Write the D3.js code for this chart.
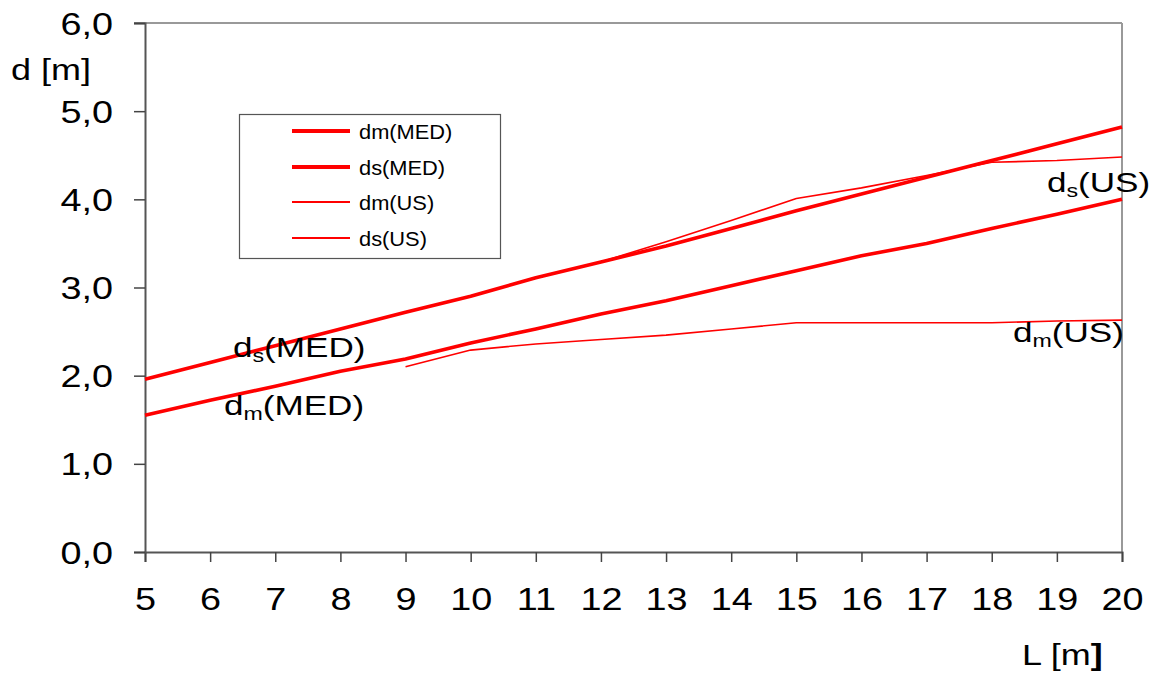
<!DOCTYPE html>
<html>
<head>
<meta charset="utf-8">
<script src="https://cdn.jsdelivr.net/npm/d3@7/dist/d3.min.js"></script>
<style>
  html, body { margin: 0; padding: 0; background: #fff; }
  svg { display: block; font-family: "Liberation Sans", Arial, sans-serif; }
</style>
</head>
<body>
<svg id="chart" width="1157" height="682"></svg>
<script>
// Span length L [m]
const lengths = [5, 6, 7, 8, 9, 10, 11, 12, 13, 14, 15, 16, 17, 18, 19, 20];
// Depths d [m] for the MED rules
const dmMED = [1.55, 1.72, 1.88, 2.05, 2.19, 2.37, 2.53, 2.70, 2.85, 3.02, 3.19, 3.36, 3.50, 3.67, 3.83, 4.00];
const dsMED = [1.96, 2.15, 2.34, 2.53, 2.72, 2.90, 3.11, 3.29, 3.47, 3.67, 3.87, 4.06, 4.25, 4.44, 4.63, 4.82];
// Depths d [m] for the US rules (from L = 9 m)
const lengthsUS = [9, 10, 11, 12, 13, 14, 15, 16, 17, 18, 19, 20];
const dmUS = [2.10, 2.29, 2.36, 2.41, 2.46, 2.53, 2.60, 2.60, 2.60, 2.60, 2.62, 2.63];
const dsUS = [2.72, 2.90, 3.11, 3.29, 3.52, 3.76, 4.01, 4.13, 4.27, 4.42, 4.44, 4.48];

const xTicks = [5, 6, 7, 8, 9, 10, 11, 12, 13, 14, 15, 16, 17, 18, 19, 20];
const yTicks = [0, 1, 2, 3, 4, 5, 6];

const seriesNames = ["dm(MED)", "ds(MED)", "dm(US)", "ds(US)"];

const series = [
  { name: seriesNames[0], xs: lengths, ys: dmMED, w: 3.6 },
  { name: seriesNames[1], xs: lengths, ys: dsMED, w: 3.6 },
  { name: seriesNames[2], xs: lengthsUS, ys: dmUS, w: 1.6 },
  { name: seriesNames[3], xs: lengthsUS, ys: dsUS, w: 1.6 }
];

const svg = d3.select("#chart");
const plotLeft = 145, plotRight = 1122, plotTop = 23, plotBottom = 552;
const STRETCH = 1.22;

const x = d3.scaleLinear().domain([5, 20]).range([plotLeft, plotRight]);
const y = d3.scaleLinear().domain([0, 6]).range([plotBottom, plotTop]);

const fmt = d => d.toFixed(1).replace(".", ",");

// plot frame: top and right edges
svg.append("line").attr("x1", plotLeft - 11).attr("x2", plotRight).attr("y1", plotTop).attr("y2", plotTop)
  .attr("stroke", "#777").attr("stroke-width", 1.5);
svg.append("line").attr("x1", plotRight).attr("x2", plotRight).attr("y1", plotTop).attr("y2", plotBottom)
  .attr("stroke", "#999").attr("stroke-width", 2);

// axes
const gx = svg.append("g").attr("transform", `translate(0,${plotBottom})`)
  .call(d3.axisBottom(x).tickValues(xTicks).tickSize(10).tickPadding(26).tickFormat(d3.format("d")));
const gy = svg.append("g").attr("transform", `translate(${plotLeft},0)`)
  .call(d3.axisLeft(y).tickValues(yTicks).tickSize(11).tickPadding(21).tickFormat(fmt));

[gx, gy].forEach(g => {
  g.select(".domain").attr("stroke", "#555").attr("stroke-width", 2);
  g.selectAll(".tick line").attr("stroke", "#444").attr("stroke-width", 1.5);
  g.selectAll(".tick text").attr("fill", "#000").attr("font-size", 31)
    .attr("font-family", "'Liberation Sans', Arial, sans-serif");
});
gx.selectAll(".tick text").attr("transform", `scale(${STRETCH},1)`);
gy.selectAll(".tick text").attr("x", -32 / STRETCH).attr("dy", "0.36em")
  .attr("transform", `scale(${STRETCH},1)`);

// data lines
const line = d3.line().x(d => x(d[0])).y(d => y(d[1]));
const plot = svg.append("g");
series.forEach(s => {
  plot.append("path")
    .datum(s.xs.map((v, i) => [v, s.ys[i]]))
    .attr("d", line)
    .attr("fill", "none")
    .attr("stroke", "#ff0000")
    .attr("stroke-width", s.w)
    .attr("stroke-linejoin", "round");
});

// stretched text helper
function label(px, py, size, sx, parts) {
  const t = svg.append("text")
    .attr("transform", `translate(${px},${py}) scale(${sx},1)`)
    .attr("font-size", size).attr("fill", "#000");
  parts.forEach(p => {
    const ts = t.append("tspan").text(p.text);
    if (p.sub) ts.attr("font-size", size * 0.66).attr("dy", size * 0.18);
    if (p.up) ts.attr("dy", -size * 0.18);
    if (p.bold) ts.attr("font-weight", "bold");
  });
  return t;
}

// axis titles
label(11, 80, 30, 1.2, [{ text: "d [m]" }]);
label(1022, 665, 30, 1.2, [{ text: "L [m" }, { text: "]", bold: true }]);

// series labels on the plot
label(233, 357, 27, 1.3, [{ text: "d" }, { text: "s", sub: true }, { text: "(MED)", up: true }]);
label(224, 415, 27, 1.3, [{ text: "d" }, { text: "m", sub: true }, { text: "(MED)", up: true }]);
label(1013, 342, 27, 1.3, [{ text: "d" }, { text: "m", sub: true }, { text: "(US)", up: true }]);
label(1047, 192, 27, 1.3, [{ text: "d" }, { text: "s", sub: true }, { text: "(US)", up: true }]);

// legend
const lg = svg.append("g");
lg.append("rect").attr("x", 239.5).attr("y", 114.5).attr("width", 261).attr("height", 144)
  .attr("fill", "#fff").attr("stroke", "#555").attr("stroke-width", 1.2);
const rowY = [131, 167, 202, 238];
series.forEach((s, i) => {
  lg.append("line").attr("x1", 292).attr("x2", 350).attr("y1", rowY[i]).attr("y2", rowY[i])
    .attr("stroke", "#ff0000").attr("stroke-width", i < 2 ? 4.2 : 1.8);
  label(359, rowY[i] + 7.5, 21, 1.04, [{ text: s.name }]);
});
</script>
</body>
</html>
